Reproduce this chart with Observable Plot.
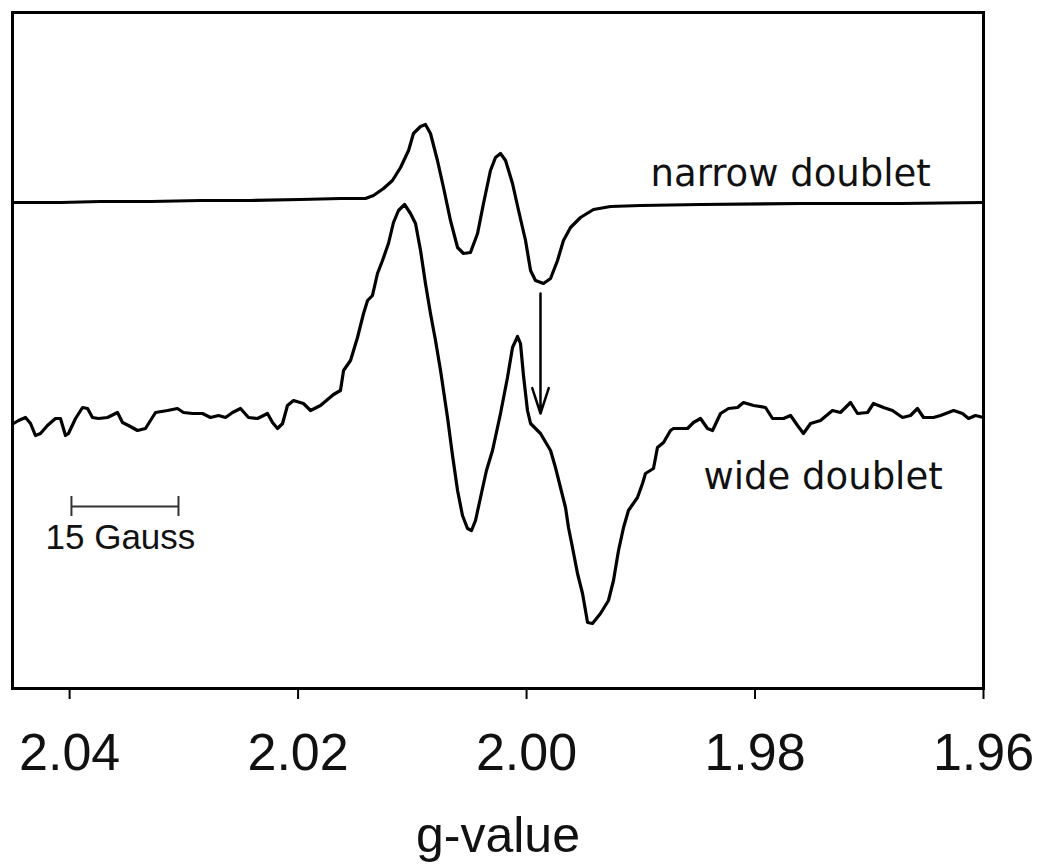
<!DOCTYPE html>
<html>
<head>
<meta charset="utf-8">
<script src="https://cdn.jsdelivr.net/npm/d3@7"></script>
<script src="https://cdn.jsdelivr.net/npm/@observablehq/plot@0.6"></script>
<style>
  html, body { margin: 0; padding: 0; background: #fff; }
  #chart svg { display: block; }
</style>
</head>
<body>
<div id="chart"></div>
<script>
// ---- Data (g-value vs. arbitrary EPR intensity) ----
const tickValues = [2.04, 2.02, 2.00, 1.98, 1.96];
const xLabel = "g-value";

const narrowG = [2.04500, 2.04080, 2.03730, 2.03292, 2.02854, 2.02417, 2.01979, 2.01629, 2.01410,
  2.01340, 2.01252, 2.01174, 2.01103, 2.01033, 2.00990, 2.00928, 2.00885, 2.00841, 2.00780,
  2.00727, 2.00666, 2.00604, 2.00552, 2.00491, 2.00429, 2.00377, 2.00316, 2.00272, 2.00228,
  2.00184, 2.00123, 2.00070, 2.00009, 1.99965, 1.99922, 1.99852, 1.99790, 1.99729, 1.99677,
  1.99615, 1.99528, 1.99414, 1.99265, 1.99002, 1.98477, 1.97602, 1.96726, 1.96000];
const narrowI = [486, 486, 487, 487, 488, 488, 489, 490, 490,
  493, 500, 508, 521, 538, 555, 562, 564, 555, 528,
  501, 468, 441, 435, 436, 455, 485, 518, 531, 535,
  528, 505, 478, 448, 418, 408, 405, 410, 428, 448,
  461, 471, 479, 482, 483, 484, 485, 485, 486];

const wideG = [2.04491, 2.04447, 2.04386, 2.04342, 2.04299, 2.04255, 2.04194, 2.04124, 2.04080,
  2.04036, 2.04010, 2.03948, 2.03887, 2.03843, 2.03800, 2.03747, 2.03668, 2.03581, 2.03537,
  2.03485, 2.03406, 2.03336, 2.03292, 2.03248, 2.03143, 2.03056, 2.03003, 2.02924, 2.02837,
  2.02767, 2.02697, 2.02635, 2.02574, 2.02504, 2.02434, 2.02355, 2.02268, 2.02224, 2.02180,
  2.02136, 2.02093, 2.02040, 2.01953, 2.01891, 2.01804, 2.01690, 2.01629, 2.01602, 2.01541,
  2.01480, 2.01427, 2.01392, 2.01349, 2.01305, 2.01261, 2.01209, 2.01165, 2.01121, 2.01068,
  2.01016, 2.00972, 2.00928, 2.00885, 2.00841, 2.00797, 2.00753, 2.00692, 2.00648, 2.00604,
  2.00561, 2.00517, 2.00482, 2.00447, 2.00403, 2.00351, 2.00298, 2.00228, 2.00167, 2.00123,
  2.00079, 2.00053, 2.00027, 1.99992, 1.99965, 1.99878, 1.99790, 1.99747, 1.99703, 1.99659,
  1.99633, 1.99598, 1.99554, 1.99510, 1.99466, 1.99423, 1.99353, 1.99283, 1.99239, 1.99195,
  1.99151, 1.99108, 1.99029, 1.98985, 1.98959, 1.98889, 1.98854, 1.98801, 1.98740, 1.98714,
  1.98591, 1.98539, 1.98477, 1.98416, 1.98372, 1.98302, 1.98232, 1.98153, 1.98101, 1.98013,
  1.97908, 1.97847, 1.97751, 1.97689, 1.97628, 1.97576, 1.97514, 1.97427, 1.97322, 1.97252,
  1.97164, 1.97103, 1.97015, 1.96963, 1.96875, 1.96797, 1.96709, 1.96639, 1.96578, 1.96525,
  1.96438, 1.96376, 1.96262, 1.96184, 1.96131, 1.96070, 1.96000];
const wideI = [265, 268, 271, 265, 253, 255, 263, 270, 270,
  253, 255, 270, 281, 280, 271, 270, 271, 276, 266,
  263, 258, 260, 268, 276, 278, 280, 276, 275, 275,
  271, 273, 271, 276, 280, 271, 270, 275, 266, 260,
  265, 283, 288, 285, 278, 283, 294, 298, 318, 328,
  351, 375, 388, 393, 415, 428, 445, 466, 478, 484,
  475, 465, 438, 405, 375, 348, 318, 271, 233, 198,
  173, 160, 158, 168, 191, 218, 238, 275, 311, 341,
  352, 345, 313, 278, 265, 255, 238, 221, 201, 181,
  161, 141, 115, 95, 66, 65, 75, 88, 108, 138,
  161, 178, 191, 205, 215, 220, 241, 246, 258, 260,
  260, 266, 270, 260, 258, 275, 280, 281, 286, 283,
  281, 270, 270, 273, 263, 255, 265, 268, 278, 276,
  286, 275, 276, 285, 281, 278, 271, 273, 280, 271,
  271, 273, 278, 275, 270, 273, 271];

// Annotation arrow (g, intensity start -> end)
const arrowG = [1.99878];
const arrowI1 = [395];
const arrowI2 = [275];

// 15 Gauss scale bar
const barG1 = [2.03984];
const barG2 = [2.03047];
const barI = [182];
const barTickHalf = 10;

// Text labels
const curveLabels = ["narrow doublet", "wide doublet"];
const curveLabelG = [1.98915, 1.98451];
const curveLabelI = [503, 200];
const barLabel = ["15 Gauss"];
const barLabelG = [2.04211];
const barLabelI = [140];

// ---- Build tables ----
const narrow = narrowG.map((g, i) => ({g, v: narrowI[i]}));
const wide = wideG.map((g, i) => ({g, v: wideI[i]}));
const arrows = arrowG.map((g, i) => ({g, v1: arrowI1[i], v2: arrowI2[i]}));
const bars = barG1.map((g1, i) => ({g1, g2: barG2[i], v: barI[i]}));
const barEnds = bars.flatMap(b => [{g: b.g1, v: b.v}, {g: b.g2, v: b.v}]);
const labels = curveLabels.map((t, i) => ({t, g: curveLabelG[i], v: curveLabelI[i]}));
const barTexts = barLabel.map((t, i) => ({t, g: barLabelG[i], v: barLabelI[i]}));

const chart = Plot.plot({
  width: 1038,
  height: 865,
  marginLeft: 12,
  marginRight: 55,
  marginTop: 12,
  marginBottom: 177,
  style: {background: "#fff", color: "#000", fontFamily: "Liberation Sans, Arial, sans-serif"},
  x: {domain: [2.045, 1.96]},
  y: {domain: [0, 676], axis: null},
  marks: [
    Plot.axisX({
      ticks: tickValues,
      tickFormat: d3.format(".2f"),
      tickSize: 11,
      tickPadding: 34,
      strokeWidth: 2,
      fontSize: 52,
      fill: "#111",
      label: null
    }),
    Plot.text([xLabel], {frameAnchor: "bottom", dy: 163, lineAnchor: "bottom", fontSize: 50, fill: "#111", fontFamily: "Liberation Sans"}),
    Plot.line(narrow, {x: "g", y: "v", stroke: "#000", strokeWidth: 3.2}),
    Plot.line(wide, {x: "g", y: "v", stroke: "#000", strokeWidth: 3.2}),
    Plot.arrow(arrows, {x1: "g", x2: "g", y1: "v1", y2: "v2", stroke: "#000", strokeWidth: 2.5, headLength: 16, headAngle: 36}),
    Plot.ruleY(bars, {x1: "g1", x2: "g2", y: "v", stroke: "#333", strokeWidth: 2}),
    Plot.ruleX(barEnds, {x: "g", y1: d => d.v - barTickHalf, y2: d => d.v + barTickHalf, stroke: "#333", strokeWidth: 2}),
    Plot.text(labels, {x: "g", y: "v", text: "t", textAnchor: "start", lineAnchor: "bottom", fontSize: 37, fontFamily: "DejaVu Sans", fill: "#111"}),
    Plot.text(barTexts, {x: "g", y: "v", text: "t", textAnchor: "start", lineAnchor: "bottom", fontSize: 35, fontFamily: "Liberation Sans", fill: "#111"}),
    Plot.frame({stroke: "#000", strokeWidth: 3})
  ]
});
document.getElementById("chart").appendChild(chart);
</script>
</body>
</html>
